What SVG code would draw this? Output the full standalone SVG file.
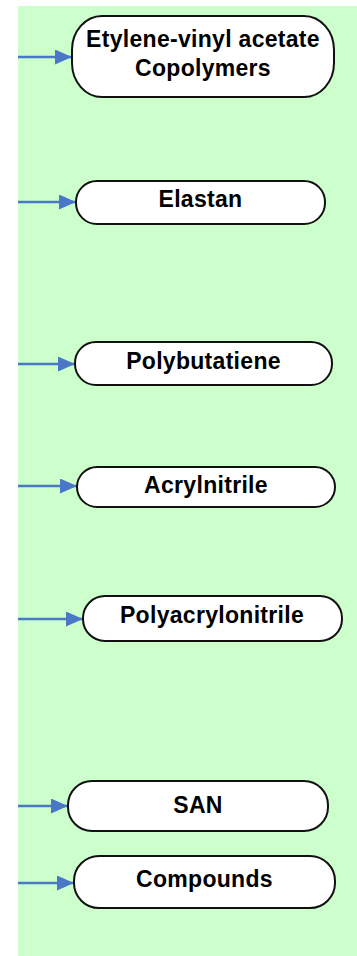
<svg xmlns="http://www.w3.org/2000/svg" width="357" height="956" viewBox="0 0 357 956">
<style>
.bg{fill:#ccffcc}
.node rect{fill:#ffffff;stroke:#111111;stroke-width:2}
.node text{font-family:"Liberation Sans",Arial,sans-serif;font-weight:bold;font-size:23px;letter-spacing:0.3px;fill:#000;text-anchor:middle}
.edge{stroke:#4a78c6;stroke-width:2.5;fill:none;marker-end:url(#arr)}
</style>
<defs>
<marker id="arr" markerUnits="userSpaceOnUse" markerWidth="20" markerHeight="16" refX="17" refY="7.5" orient="auto">
<path d="M0,0 L17,7.5 L0,15 z" fill="#4a78c6"/>
</marker>
</defs>
<rect class="bg" x="18" y="6" width="339" height="950"/>
<g id="connectors">
<line class="edge" x1="18" y1="57" x2="72" y2="57"/>
<line class="edge" x1="18" y1="202" x2="76" y2="202"/>
<line class="edge" x1="18" y1="364" x2="75" y2="364"/>
<line class="edge" x1="18" y1="486" x2="77" y2="486"/>
<line class="edge" x1="18" y1="619" x2="83" y2="619"/>
<line class="edge" x1="18" y1="806" x2="68" y2="806"/>
<line class="edge" x1="18" y1="883" x2="74" y2="883"/>
</g>
<g id="n1" class="node">
<rect x="72" y="16" width="262" height="81" rx="30" ry="34"/>
<text x="203" y="47">Etylene-vinyl acetate</text>
<text x="203" y="76">Copolymers</text>
</g>
<g id="n2" class="node">
<rect x="76" y="181" width="249" height="43" rx="21"/>
<text x="200.5" y="207">Elastan</text>
</g>
<g id="n3" class="node">
<rect x="75" y="342" width="257" height="43" rx="21"/>
<text x="203.5" y="369">Polybutatiene</text>
</g>
<g id="n4" class="node">
<rect x="77" y="467" width="258" height="40" rx="20"/>
<text x="206" y="493">Acrylnitrile</text>
</g>
<g id="n5" class="node">
<rect x="83" y="596" width="259" height="45" rx="22"/>
<text x="212" y="623">Polyacrylonitrile</text>
</g>
<g id="n6" class="node">
<rect x="68" y="781" width="260" height="50" rx="24"/>
<text x="198" y="813">SAN</text>
</g>
<g id="n7" class="node">
<rect x="74" y="856" width="261" height="52" rx="25"/>
<text x="204.5" y="887">Compounds</text>
</g>
</svg>
